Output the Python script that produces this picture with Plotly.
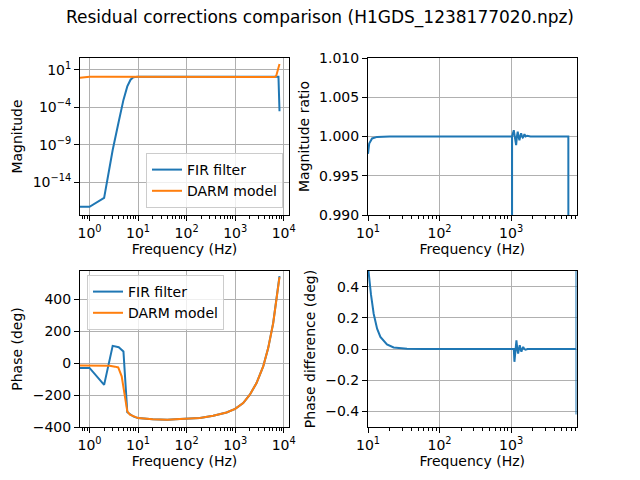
import plotly.graph_objects as go

# FIR filter vs DARM model response
freq_lo = [0.5, 1, 2, 3, 4, 5, 6, 7, 8, 9, 10, 20, 50, 100, 1000, 5000, 6500, 7000, 7700, 7800, 8192]
fir_mag = [5e-18, 5e-18, 8e-17, 2e-10, 1.3e-6, 1e-3, 0.063, 0.5, 1.1, 1.25, 1.26, 1.26, 1.26, 1.26,
           1.26, 1.26, 1.26, 1.26, 1.26, 1.2, 3e-5]
darm_freq = [0.5, 1, 2, 5, 10, 100, 1000, 5000, 6000, 6500, 7000, 7500, 8192]
darm_mag = [0.78, 1.2, 1.26, 1.26, 1.26, 1.26, 1.26, 1.26, 1.22, 1.15, 1.6, 6.0, 63.0]

phase_freq = [0.5, 1, 2, 3, 4, 5, 6, 7, 8, 9, 10, 20, 40, 73, 100, 188, 353, 665, 1000, 1462,
              2005, 2754, 3780, 4790, 6070, 7100, 7600, 8192]
fir_phase = [-30, -30, -136, 108, 100, 73, -308, -325, -334, -340, -344, -351, -354, -350, -349,
             -344, -329, -309, -286, -250, -198, -125, -21, 94, 250, 396, 470, 545]
darm_phase_freq = [0.5, 1, 2, 2.6, 3.35, 3.9, 4.6, 5.1, 5.55, 6, 6.8, 8, 9, 10, 20, 40, 73, 100,
                   188, 353, 665, 1000, 1462, 2005, 2754, 3780, 4790, 6070, 7100, 7600, 8192]
darm_phase = [-15, -15, -15, -17, -22, -27, -83, -167, -250, -302, -323, -334, -340, -344, -351,
              -354, -350, -349, -344, -329, -309, -286, -250, -198, -125, -21, 94, 250, 396, 470,
              538]

ratio_freq = [10, 10.4, 11.4, 13.4, 20, 1000, 1029, 1030, 1031, 1089, 1120, 1175, 1205, 1236,
              1270, 1306, 1340, 1380, 1420, 1456, 1495, 1535, 1600, 1674, 1862, 6300, 6320, 8192]
mag_ratio = [0.9978, 0.9991, 0.99975, 0.99995, 1.0, 1.0, 1.0, 0.95, 1.0, 1.0008, 1.0, 0.9989,
             1.0, 1.0006, 1.0, 0.99953, 1.0, 1.0004, 1.0, 0.99987, 1.0, 1.0003, 1.0, 1.0001, 1.0,
             1.0, 0.95, 0.9]

pdiff_freq = [10, 10.5, 11, 12, 13.4, 14.9, 18.4, 22.8, 35, 60, 1090, 1112, 1150, 1186, 1220,
              1252, 1285, 1319, 1355, 1393, 1430, 1472, 1530, 1585, 1700, 8180, 8190, 8192]
phase_diff = [0.53, 0.42, 0.35, 0.226, 0.13, 0.077, 0.03, 0.01, 0.002, 0.0, 0.0, -0.082, 0.0,
              0.056, 0.0, -0.029, 0.0, 0.024, 0.0, -0.018, 0.0, 0.013, 0.0, -0.004, 0.0, 0.0,
              0.8, -0.42]

freq_ticks = [1, 10, 100, 1000, 10000]
freq_labels = ["10<sup>0</sup>", "10<sup>1</sup>", "10<sup>2</sup>", "10<sup>3</sup>", "10<sup>4</sup>"]
mag_ticks = [10, 1e-4, 1e-9, 1e-14]
mag_labels = ["10<sup>1</sup>", "10<sup>\u22124</sup>", "10<sup>\u22129</sup>", "10<sup>\u221214</sup>"]

blue = "#1f77b4"
orange = "#ff7f0e"

# the page body has an 8px margin, so the figure is made 624x464 and placed by window pixels
W, H, OFF = 624, 464, 8


def px(x):
    return (x - OFF) / W


def py(y):
    return 1 - (y - OFF) / H


fig = go.Figure()
fig.add_trace(go.Scatter(x=freq_lo, y=fir_mag, name="FIR filter", mode="lines",
                         line=dict(color=blue, width=2), xaxis="x", yaxis="y", legend="legend"))
fig.add_trace(go.Scatter(x=darm_freq, y=darm_mag, name="DARM model", mode="lines",
                         line=dict(color=orange, width=2), xaxis="x", yaxis="y", legend="legend"))
fig.add_trace(go.Scatter(x=ratio_freq, y=mag_ratio, mode="lines", showlegend=False,
                         line=dict(color=blue, width=2), xaxis="x2", yaxis="y2"))
fig.add_trace(go.Scatter(x=phase_freq, y=fir_phase, name="FIR filter", mode="lines",
                         line=dict(color=blue, width=2), xaxis="x3", yaxis="y3", legend="legend2"))
fig.add_trace(go.Scatter(x=darm_phase_freq, y=darm_phase, name="DARM model", mode="lines",
                         line=dict(color=orange, width=2), xaxis="x3", yaxis="y3", legend="legend2"))
fig.add_trace(go.Scatter(x=pdiff_freq, y=phase_diff, mode="lines", showlegend=False,
                         line=dict(color=blue, width=2), xaxis="x4", yaxis="y4"))

title_font = dict(size=14, color="black")
common = dict(showline=True, mirror=True, linecolor="black", linewidth=1, ticks="outside",
              ticklen=5, tickcolor="black", showgrid=True, gridcolor="#b0b0b0", gridwidth=1,
              zeroline=False, automargin=False, tickfont=dict(size=14, color="black"))
logx = dict(common, type="log", tickvals=freq_ticks, ticktext=freq_labels,
            minor=dict(ticks="outside", ticklen=3, tickwidth=0.8, tickcolor="black",
                       dtick="D1", showgrid=False),
            title=dict(text="Frequency (Hz)", font=title_font, standoff=4))

left_x = [px(80), px(289)]
right_x = [px(368), px(576.5)]
top_y = [py(215), py(58)]
bot_y = [py(427), py(271)]

fig.update_layout(
    template="none",
    width=W, height=H,
    margin=dict(l=0, r=0, t=0, b=0),
    paper_bgcolor="white", plot_bgcolor="white",
    font=dict(family="DejaVu Sans", size=14, color="black"),
    title=dict(text="Residual corrections comparison (H1GDS_1238177020.npz)",
               x=px(320), xanchor="center", y=py(17), yanchor="middle", font=dict(size=17)),
    xaxis=dict(logx, domain=left_x, anchor="y", range=[-0.196, 4.109]),
    yaxis=dict(common, type="log", domain=top_y, anchor="x", range=[-18.39, 2.6],
               tickvals=mag_ticks, ticktext=mag_labels,
               title=dict(text="Magnitude", font=title_font, standoff=6)),
    xaxis2=dict(logx, domain=right_x, anchor="y2", range=[1, 3.9134]),
    yaxis2=dict(common, domain=top_y, anchor="x2", range=[0.99, 1.01], dtick=0.005,
                tickformat=".3f", title=dict(text="Magnitude ratio", font=title_font, standoff=6)),
    xaxis3=dict(logx, domain=left_x, anchor="y3", range=[-0.196, 4.109]),
    yaxis3=dict(common, domain=bot_y, anchor="x3", range=[-400, 577], dtick=200,
                title=dict(text="Phase (deg)", font=title_font, standoff=6)),
    xaxis4=dict(logx, domain=right_x, anchor="y4", range=[1, 3.9134]),
    yaxis4=dict(common, domain=bot_y, anchor="x4", range=[-0.5, 0.5], dtick=0.2,
                tickformat=".1f",
                title=dict(text="Phase difference (deg)", font=title_font, standoff=6)),
    legend=dict(x=px(283), y=py(208), xanchor="right", yanchor="bottom",
                bgcolor="rgba(255,255,255,0.8)", bordercolor="#cccccc", borderwidth=1,
                font=dict(size=14), itemwidth=30, tracegroupgap=0),
    legend2=dict(x=px(87), y=py(275), xanchor="left", yanchor="top",
                 bgcolor="rgba(255,255,255,0.8)", bordercolor="#cccccc", borderwidth=1,
                 font=dict(size=14), itemwidth=30, tracegroupgap=0),
)

fig.write_html("out.html")
